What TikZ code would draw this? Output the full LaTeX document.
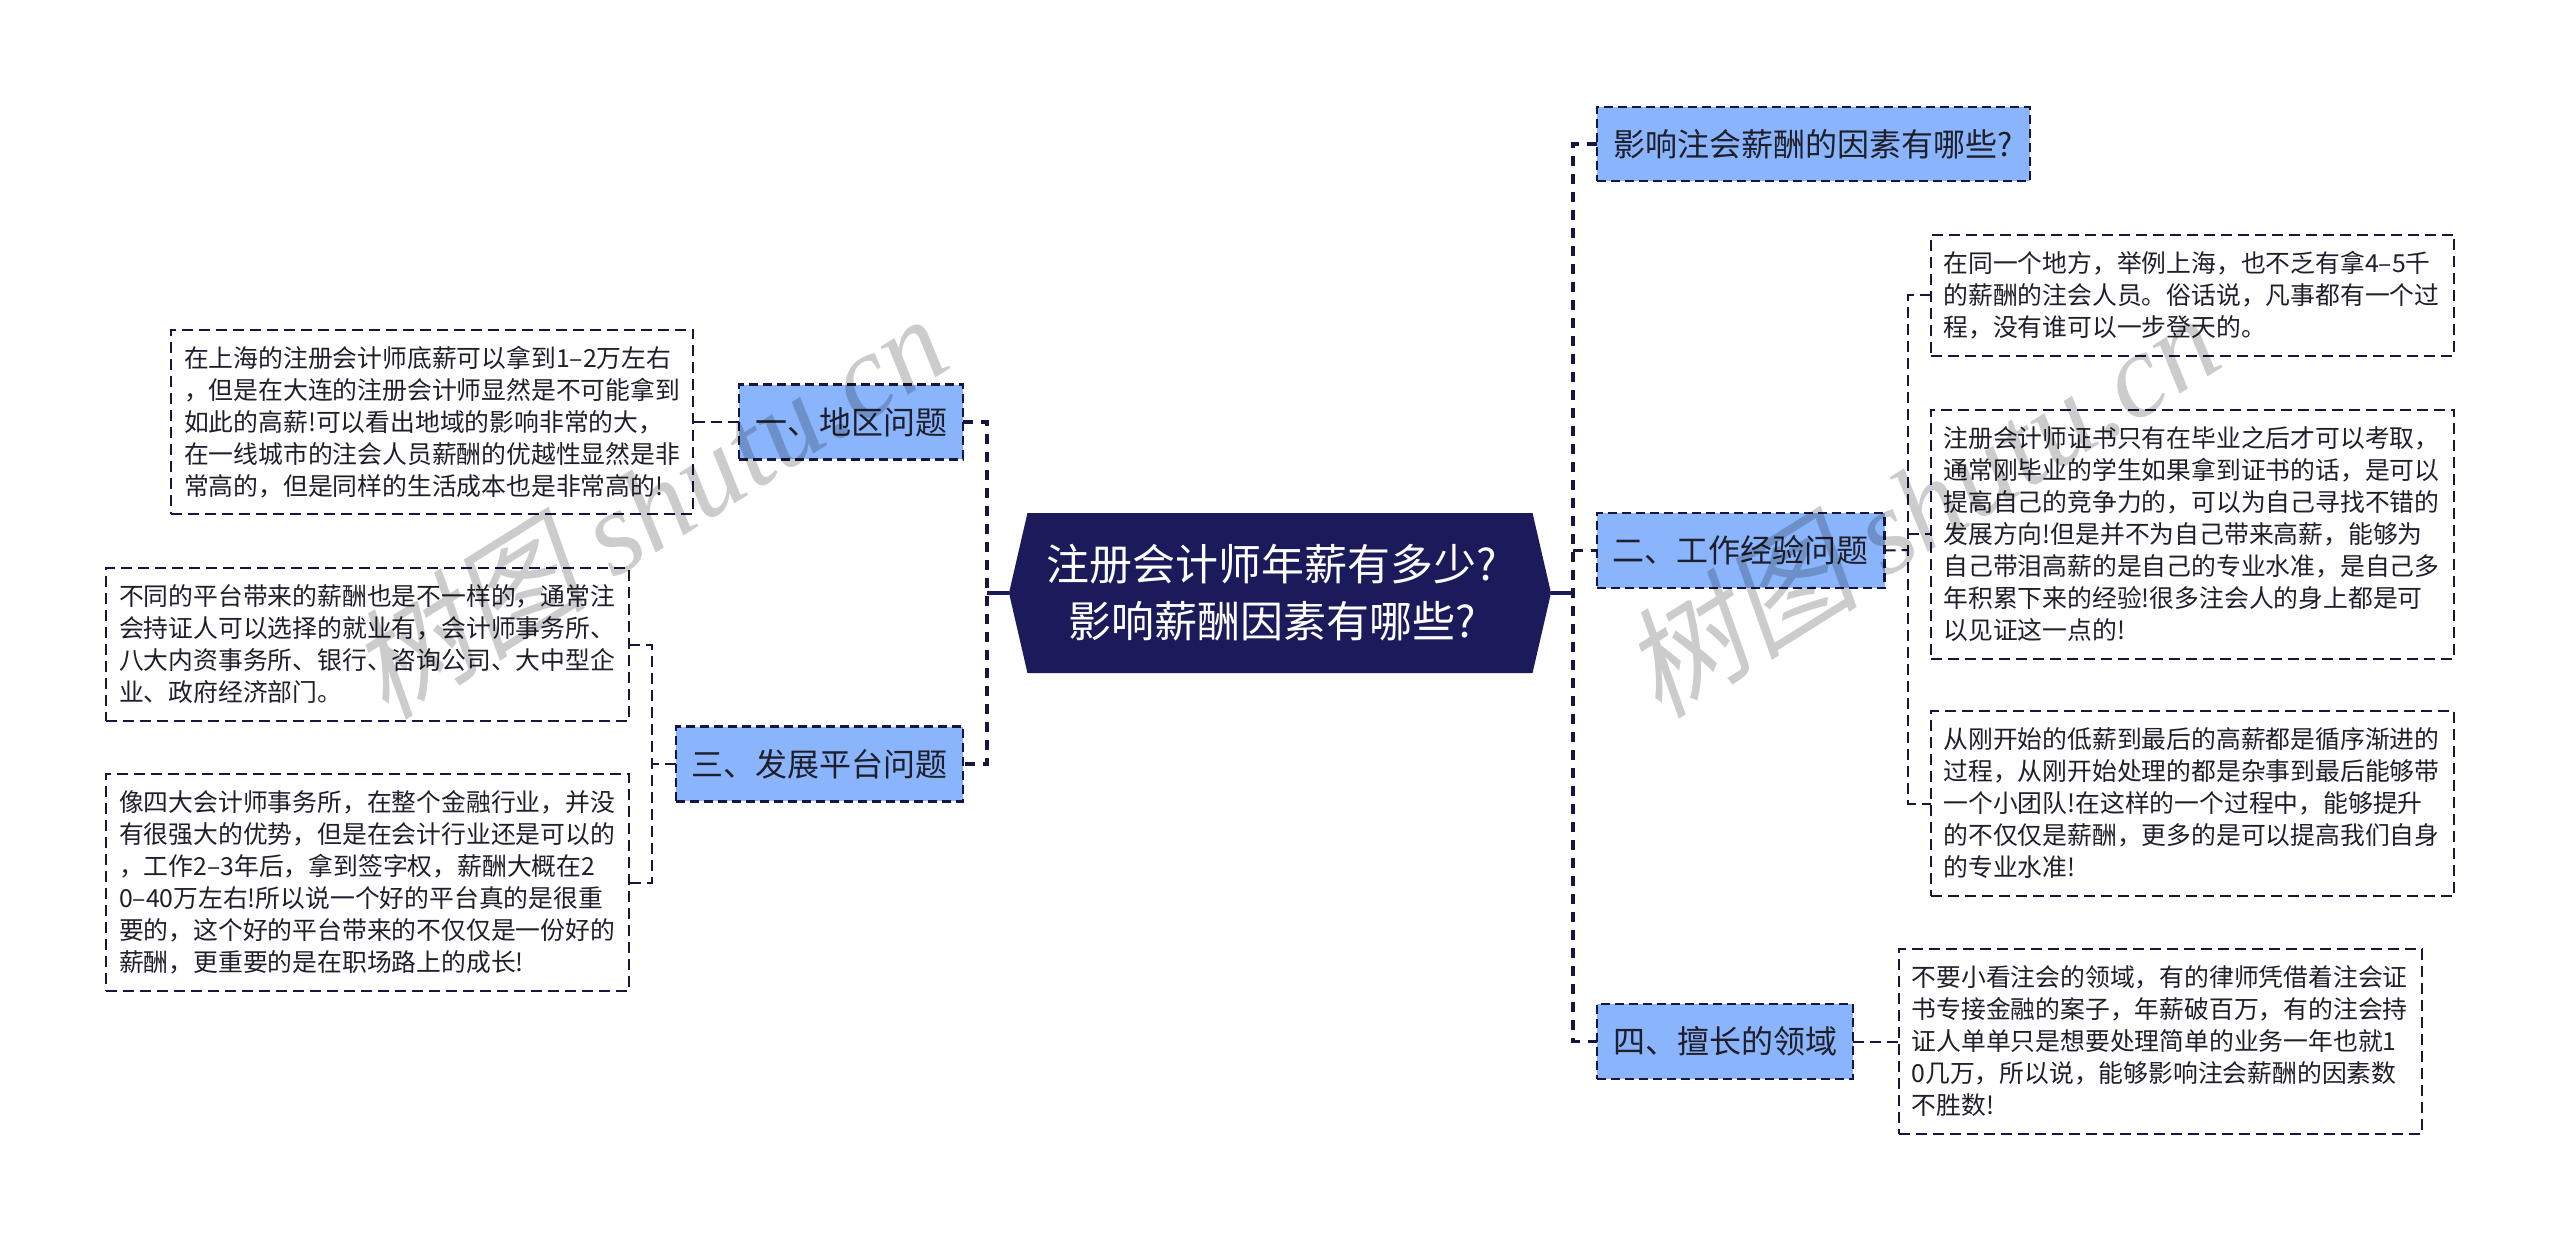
\documentclass[tikz,border=0pt]{standalone}
\usepackage{fontspec}
\usetikzlibrary{shapes.symbols}
\setmainfont{Noto Sans CJK SC}
\newfontfamily\wmcjk[FakeSlant=0.22]{Noto Sans CJK SC}
\newfontfamily\wmlat{Liberation Serif}[ItalicFont=* Italic]
\definecolor{navy}{HTML}{1B1B5B}
\definecolor{linenavy}{HTML}{16163F}
\definecolor{topicblue}{HTML}{8AB4FB}
\definecolor{ink}{HTML}{1F1F2B}
\tikzset{
  rootbox/.style={signal, signal to=west and east, signal pointer angle=154, fill=navy, draw=none,
    minimum width=542, minimum height=160, inner sep=0, outer sep=0, text=white, align=center,
    font=\fontsize{43}{57}\selectfont},
  topic/.style={rectangle, fill=topicblue, draw=linenavy, line width=2.6pt, dash pattern=on 9pt off 5pt,
    inner sep=0, outer sep=0, text=ink, align=center, font=\fontsize{32}{38}\selectfont},
  leaf/.style={rectangle, draw=linenavy, line width=2pt, dash pattern=on 11pt off 6pt,
    inner xsep=13pt, inner ysep=0, outer sep=0, text=ink, align=left, font=\fontsize{24.8}{32}\selectfont},
  stub/.style={draw=navy, line width=4pt},
  trunk/.style={draw=linenavy, line width=3.6pt, dash pattern=on 10pt off 8pt},
  twig/.style={draw=linenavy, line width=2pt, dash pattern=on 11pt off 6pt},
  watermark/.style={text=black, opacity=0.2, rotate=32, inner sep=0}
}
\begin{document}
\begin{tikzpicture}[x=1pt,y=-1pt]
\path[use as bounding box, fill=white] (0,0) rectangle (2560,1241);

% root
\node[rootbox] (root) at (1280,593) {注册会计师年薪有多少?\hspace*{16pt}\\影响薪酬因素有哪些?\hspace*{16pt}};

% left
\node[topic, minimum width=224, minimum height=74.5] (region) at (851,422) {一、地区问题};
\node[topic, minimum width=287, minimum height=74.5] (platform) at (819.5,764) {三、发展平台问题};
\node[leaf, text width=496, minimum height=184.5] (leafa) at (432,422) {在上海的注册会计师底薪可以拿到1–2万左右\\，但是在大连的注册会计师显然是不可能拿到\\如此的高薪!可以看出地域的影响非常的大，\\在一线城市的注会人员薪酬的优越性显然是非\\常高的，但是同样的生活成本也是非常高的!};
\node[leaf, text width=497, minimum height=153] (leafb) at (367.5,644.5) {不同的平台带来的薪酬也是不一样的，通常注\\会持证人可以选择的就业有，会计师事务所、\\八大内资事务所、银行、咨询公司、大中型企\\业、政府经济部门。};
\node[leaf, text width=497, minimum height=217] (leafc) at (367.5,882.5) {像四大会计师事务所，在整个金融行业，并没\\有很强大的优势，但是在会计行业还是可以的\\，工作2–3年后，拿到签字权，薪酬大概在2\\0–40万左右!所以说一个好的平台真的是很重\\要的，这个好的平台带来的不仅仅是一份好的\\薪酬，更重要的是在职场路上的成长!};

% right
\node[topic, minimum width=433, minimum height=74] (factors) at (1813.5,144) {影响注会薪酬的因素有哪些?};
\node[topic, minimum width=287.5, minimum height=75] (work) at (1740.75,550.5) {二、工作经验问题};
\node[topic, minimum width=256, minimum height=75] (field) at (1725,1041.5) {四、擅长的领域};
\node[leaf, text width=497.5, minimum height=121] (righta) at (2192.25,295.5) {在同一个地方，举例上海，也不乏有拿4–5千\\的薪酬的注会人员。俗话说，凡事都有一个过\\程，没有谁可以一步登天的。};
\node[leaf, text width=497.5, minimum height=249] (rightb) at (2192.25,534) {注册会计师证书只有在毕业之后才可以考取，\\通常刚毕业的学生如果拿到证书的话，是可以\\提高自己的竞争力的，可以为自己寻找不错的\\发展方向!但是并不为自己带来高薪，能够为\\自己带泪高薪的是自己的专业水准，是自己多\\年积累下来的经验!很多注会人的身上都是可\\以见证这一点的!};
\node[leaf, text width=497.5, minimum height=185] (rightc) at (2192.25,803.5) {从刚开始的低薪到最后的高薪都是循序渐进的\\过程，从刚开始处理的都是杂事到最后能够带\\一个小团队!在这样的一个过程中，能够提升\\的不仅仅是薪酬，更多的是可以提高我们自身\\的专业水准!};
\node[leaf, text width=497, minimum height=185] (rightd) at (2160.1,1041.5) {不要小看注会的领域，有的律师凭借着注会证\\书专接金融的案子，年薪破百万，有的注会持\\证人单单只是想要处理简单的业务一年也就1\\0几万，所以说，能够影响注会薪酬的因素数\\不胜数!};

% trunk positions
\coordinate (tl) at (987,593);
\coordinate (tr) at (1573,593);
\coordinate (bl) at (652,764);
\coordinate (br) at (1908,550);

% root stubs
\draw[stub] (root.west) -- (tl);
\draw[stub] (root.east) -- (tr);
\draw[trunk] (region.east) -- (tl |- region.east) -- (tl |- platform.east) -- (platform.east);
\draw[trunk] (factors.west) -- (tr |- factors.west) -- (tr |- field.west) -- (field.west);
\draw[trunk] (tr |- work.west) -- (work.west);

% leaf connectors
\draw[twig] (region.west) -- (leafa.east);
\draw[twig] (field.east) -- (rightd.west);
\draw[twig] (leafb.east) -- (bl |- leafb.east) -- (bl |- leafc.east) -- (leafc.east);
\draw[twig] (platform.west) -- (bl);
\draw[twig] (righta.west) -- (br |- righta.west) -- (br |- rightc.west) -- (rightc.west);
\draw[twig] (work.east) -- (br);
\draw[twig] (br |- rightb.west) -- (rightb.west);

% watermarks
\node[watermark] (wma) at (647,505) {\fontsize{120}{120}\selectfont{\wmcjk 树图} {\wmlat\itshape shutu.cn}};
\node[watermark] (wmb) at (1919,504) {\fontsize{120}{120}\selectfont{\wmcjk 树图} {\wmlat\itshape shutu.cn}};
\end{tikzpicture}
\end{document}
